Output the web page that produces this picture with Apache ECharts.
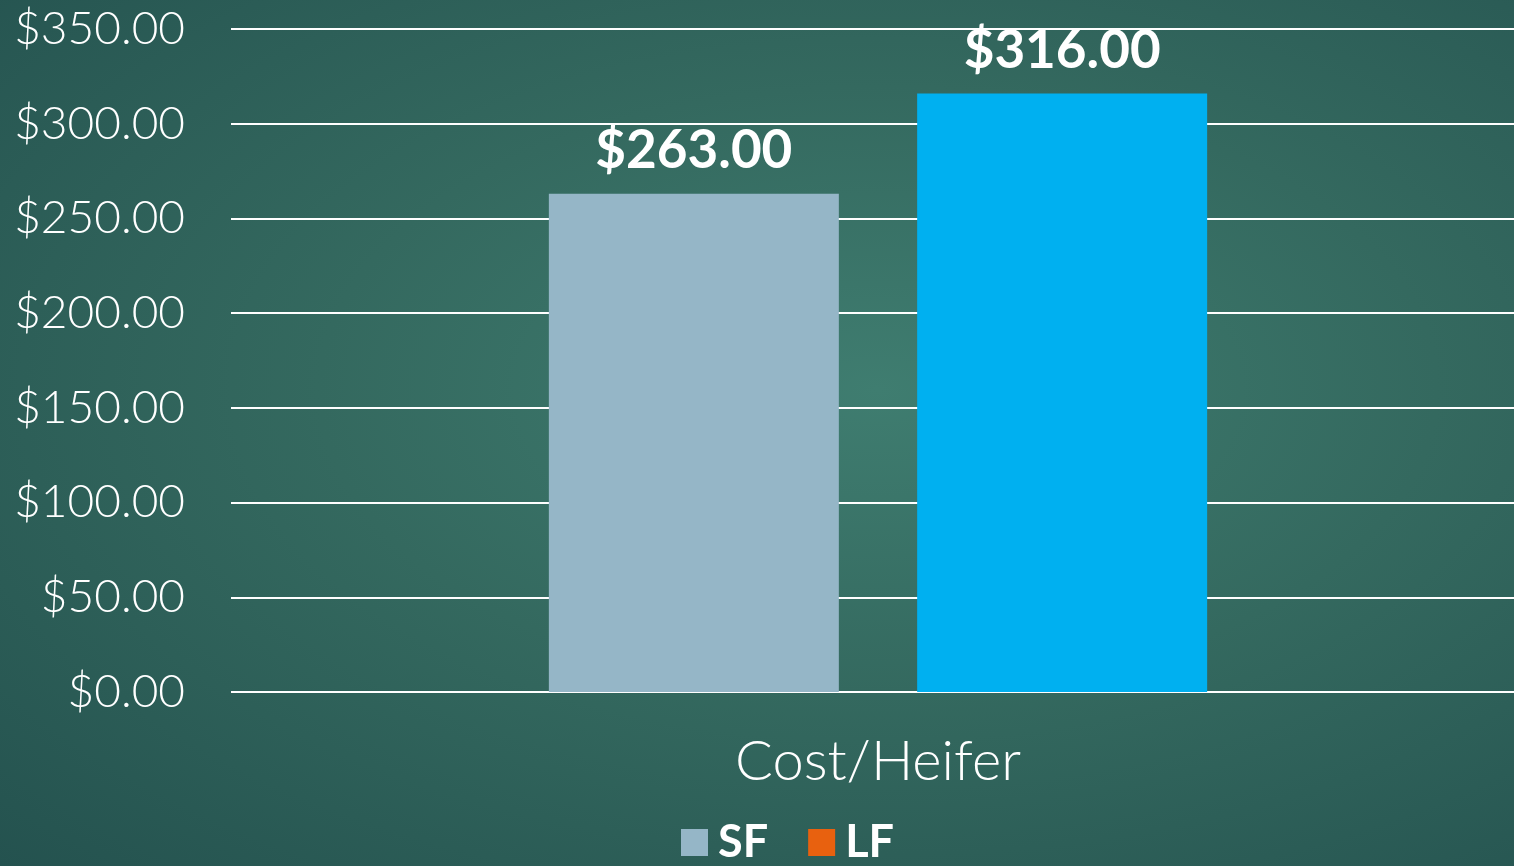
<!DOCTYPE html>
<html>
<head>
<meta charset="utf-8">
<script src="https://cdn.jsdelivr.net/npm/echarts@6/dist/echarts.min.js"></script>
<style>
  html, body { margin: 0; padding: 0; width: 100%; height: 100%; }
  body {
    background: radial-gradient(ellipse at 58% 45%, #3f7d70 0%, #34695f 45%, #24524f 100%);
  }
  #chart { width: 1514px; height: 866px; }
</style>
</head>
<body>
<div id="chart"></div>
<script>
const categories = ["Cost/Heifer"];
const seriesNames = ["SF", "LF"];
const sfValues = [263];
const lfValues = [316];
const yTicks = [0, 50, 100, 150, 200, 250, 300, 350];

document.addEventListener("DOMContentLoaded", function () {
  const chart = echarts.init(document.getElementById("chart"));
  const money = v => "$" + Number(v).toFixed(2);
  const yMin = yTicks[0];
  const yMax = yTicks[yTicks.length - 1];
  const labelStyle = {
    show: true,
    position: "top",
    distance: 16,
    color: "#ffffff",
    fontFamily: "Lato",
    fontWeight: "bold",
    fontSize: 53,
    formatter: p => money(p.value)
  };
  const option = {
    animation: false,
    backgroundColor: "transparent",
    // grid 0 carries the value axis + gridlines, grid 1 the bars (shifted a bit right like the source)
    grid: [
      { top: 29, right: 0, bottom: 174, left: 231 },
      { top: 29, right: 0, bottom: 174, left: 242 }
    ],
    legend: {
      bottom: -4,
      left: 676,
      itemWidth: 27,
      itemHeight: 27,
      itemGap: 40,
      icon: "rect",
      textStyle: { color: "#ffffff", fontFamily: "Lato", fontWeight: "bold", fontSize: 45, padding: [0, 0, 0, 5] },
      data: [
        { name: seriesNames[0], itemStyle: { color: "#95b6c7" } },
        { name: seriesNames[1], itemStyle: { color: "#e8610f" } }
      ]
    },
    xAxis: [
      { type: "category", gridIndex: 0, data: categories, show: false },
      {
        type: "category",
        gridIndex: 1,
        data: categories,
        axisLine: { show: false },
        axisTick: { show: false },
        axisLabel: { color: "#ffffff", fontFamily: "Lato", fontWeight: 300, fontSize: 56, margin: 42 }
      }
    ],
    yAxis: [
      {
        type: "value",
        gridIndex: 0,
        min: yMin,
        max: yMax,
        interval: 50,
        axisLine: { show: false },
        axisTick: { show: false },
        splitLine: { lineStyle: { color: "#ffffff", width: 2 } },
        axisLabel: {
          color: "#ffffff",
          fontFamily: "Lato",
          fontWeight: 300,
          fontSize: 46,
          margin: 46,
          formatter: money
        }
      },
      { type: "value", gridIndex: 1, min: yMin, max: yMax, interval: 50, show: false, splitLine: { show: false } }
    ],
    series: [
      {
        name: seriesNames[0],
        type: "bar",
        xAxisIndex: 1,
        yAxisIndex: 1,
        data: sfValues,
        barWidth: 290,
        barGap: "27%",
        itemStyle: { color: "#95b6c7" },
        label: labelStyle
      },
      {
        name: seriesNames[1],
        type: "bar",
        xAxisIndex: 1,
        yAxisIndex: 1,
        data: lfValues,
        barWidth: 290,
        barGap: "27%",
        itemStyle: { color: "#00b0f0" },
        label: labelStyle
      }
    ]
  };
  chart.setOption(option);
  window.addEventListener("resize", () => chart.resize());
});
</script>
</body>
</html>
